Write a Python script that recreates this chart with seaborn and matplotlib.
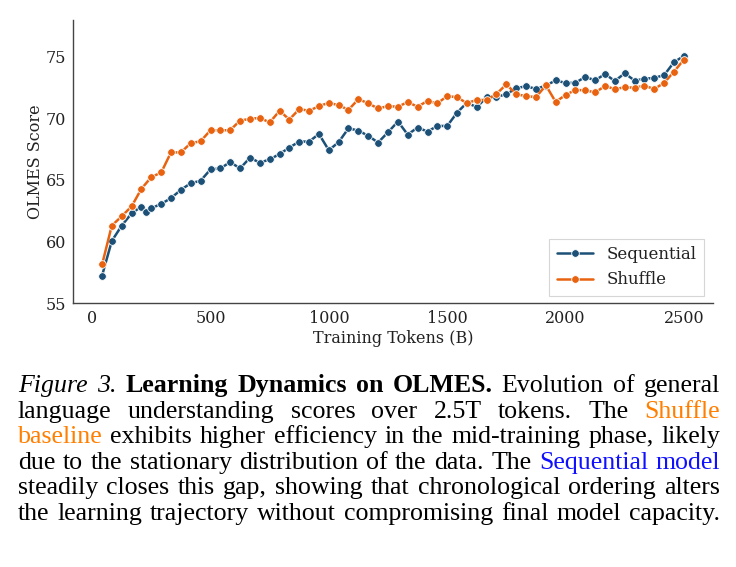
import numpy as np
import pandas as pd
import matplotlib
matplotlib.use("Agg")
import matplotlib.pyplot as plt
import seaborn as sns

# ---------------- data ----------------
tokens_shuffle = [42, 83, 125, 167, 208, 250, 292, 333, 375, 417,
                  458, 500, 542, 583, 625, 667, 708, 750, 792, 833,
                  875, 917, 958, 1000, 1042, 1083, 1125, 1167, 1208, 1250,
                  1292, 1333, 1375, 1417, 1458, 1500, 1542, 1583, 1625, 1667,
                  1708, 1750, 1792, 1833, 1875, 1917, 1958, 2000, 2042, 2083,
                  2125, 2167, 2208, 2250, 2292, 2333, 2375, 2417, 2458, 2500]
tokens_sequential = [42, 83, 125, 167, 208, 229, 250, 292, 333, 375, 417,
                     458, 500, 542, 583, 625, 667, 708, 750, 792, 833,
                     875, 917, 958, 1000, 1042, 1083, 1125, 1167, 1208, 1250,
                     1292, 1333, 1375, 1417, 1458, 1500, 1542, 1583, 1625, 1667,
                     1708, 1750, 1792, 1833, 1875, 1917, 1958, 2000, 2042, 2083,
                     2125, 2167, 2208, 2250, 2292, 2333, 2375, 2417, 2458, 2500]
score_sequential = [57.23, 60.04, 61.29, 62.29, 62.84, 62.43, 62.70, 63.06, 63.52, 64.20, 64.74,
                    64.93, 65.86, 65.94, 66.45, 65.94, 66.81, 66.40, 66.67, 67.11, 67.63,
                    68.12, 68.12, 68.74, 67.41, 68.09, 69.20, 69.01, 68.58, 68.04, 68.88,
                    69.75, 68.69, 69.26, 68.93, 69.39, 69.39, 70.48, 71.27, 70.92, 71.73,
                    71.76, 71.96, 72.47, 72.61, 72.41, 72.66, 73.10, 72.88, 72.90, 73.37,
                    73.10, 73.61, 73.04, 73.67, 73.07, 73.23, 73.29, 73.53, 74.57, 75.08]
score_shuffle = [58.13, 61.29, 62.05, 62.86, 64.28, 65.23, 65.61, 67.24, 67.24, 68.00,
                 68.14, 69.04, 69.04, 69.04, 69.83, 69.96, 70.05, 69.67, 70.62, 69.91,
                 70.76, 70.62, 71.00, 71.27, 71.07, 70.70, 71.57, 71.22, 70.81, 71.00,
                 70.95, 71.33, 70.95, 71.43, 71.22, 71.82, 71.72, 71.24, 71.51, 71.49,
                 71.99, 72.77, 71.96, 71.82, 71.73, 72.69, 71.35, 71.90, 72.32, 72.28,
                 72.12, 72.63, 72.39, 72.53, 72.50, 72.66, 72.39, 72.90, 73.80, 74.78]
series_names = ["Sequential", "Shuffle"]
x_ticks = [0, 500, 1000, 1500, 2000, 2500]
y_ticks = [55, 60, 65, 70, 75]

df = pd.concat([
    pd.DataFrame({"Training Tokens (B)": tokens_sequential, "OLMES Score": score_sequential,
                  "Model": series_names[0]}),
    pd.DataFrame({"Training Tokens (B)": tokens_shuffle, "OLMES Score": score_shuffle,
                  "Model": series_names[1]}),
], ignore_index=True)

# ---------------- style ----------------
sns.set_theme(style="white")
plt.rcParams["font.family"] = ["DejaVu Serif"]
plt.rcParams["axes.edgecolor"] = "#333333"

W, H = 736, 567
fig = plt.figure(figsize=(W / 100, H / 100), dpi=100)
ax = fig.add_axes([73 / W, 1 - 303 / H, 640 / W, 283 / H])

palette = {"Sequential": "#1c5077", "Shuffle": "#e8620f"}
sns.lineplot(data=df, x="Training Tokens (B)", y="OLMES Score", hue="Model",
             hue_order=series_names, palette=palette, style="Model",
             markers={"Sequential": "o", "Shuffle": "o"}, dashes=False,
             linewidth=1.8, markersize=5.5, markeredgecolor="white",
             markeredgewidth=0.6, ax=ax)

ax.set_ylim(55, 78)
ax.set_xticks(x_ticks)
ax.set_yticks(y_ticks)
ax.tick_params(axis="both", labelsize=11.5, length=0, pad=5, colors="#222222")
ax.set_xlabel("Training Tokens (B)", fontsize=11.5, color="#222222", labelpad=2)
ax.set_ylabel("OLMES Score", fontsize=11.5, color="#222222", labelpad=1)
for s in ["top", "right"]:
    ax.spines[s].set_visible(False)
for s in ["left", "bottom"]:
    ax.spines[s].set_linewidth(1.0)
    ax.spines[s].set_color("#444444")

leg = ax.legend(loc="lower right", fontsize=12, frameon=True, fancybox=False,
                borderpad=0.45, handlelength=2.2, borderaxespad=0,
                bbox_to_anchor=((704 - 73) / 640, (303 - 296) / 283))
leg.get_frame().set_edgecolor("#cccccc")
leg.get_frame().set_linewidth(0.8)
for t in leg.get_texts():
    t.set_color("#222222")

# ---------------- caption ----------------
ORANGE = "#ff7f00"
BLUE = "#1010ff"
caption_lines = [
    [("Figure", "i"), ("3.", "i"), ("Learning", "b"), ("Dynamics", "b"), ("on", "b"),
     ("OLMES.", "b"), ("Evolution", "r"), ("of", "r"), ("general", "r")],
    [("language", "r"), ("understanding", "r"), ("scores", "r"), ("over", "r"), ("2.5T", "r"),
     ("tokens.", "r"), ("The", "r"), ("Shuffle", "o")],
    [("baseline", "o"), ("exhibits", "r"), ("higher", "r"), ("efficiency", "r"), ("in", "r"),
     ("the", "r"), ("mid-training", "r"), ("phase,", "r"), ("likely", "r")],
    [("due", "r"), ("to", "r"), ("the", "r"), ("stationary", "r"), ("distribution", "r"),
     ("of", "r"), ("the", "r"), ("data.", "r"), ("The", "r"), ("Sequential", "u"), ("model", "u")],
    [("steadily", "r"), ("closes", "r"), ("this", "r"), ("gap,", "r"), ("showing", "r"),
     ("that", "r"), ("chronological", "r"), ("ordering", "r"), ("alters", "r")],
    [("the", "r"), ("learning", "r"), ("trajectory", "r"), ("without", "r"),
     ("compromising", "r"), ("final", "r"), ("model", "r"), ("capacity.", "r")],
]
cap_left, cap_right = 18, 720
baseline0, line_step = 392, 25.6
cap_font = "Liberation Serif"

renderer = fig.canvas.get_renderer()
probe = fig.text(0, 0, " ".join(w for w, _ in caption_lines[-1]), fontsize=10,
                 family=cap_font)
pw = probe.get_window_extent(renderer).width
probe.remove()
cap_fs = 10 * (cap_right - cap_left) / pw * 0.985

def kw(style):
    d = dict(fontsize=cap_fs, family=cap_font, color="black", va="baseline", ha="left")
    if style == "i":
        d["style"] = "italic"
    elif style == "b":
        d["weight"] = "bold"
    elif style == "o":
        d["color"] = ORANGE
    elif style == "u":
        d["color"] = BLUE
    return d

for i, line in enumerate(caption_lines):
    yb = baseline0 + i * line_step
    texts = [fig.text(0, 1 - yb / H, w, **kw(s)) for w, s in line]
    widths = [t.get_window_extent(renderer).width for t in texts]
    gap = (cap_right - cap_left - sum(widths)) / (len(texts) - 1)
    x = cap_left
    for t, w in zip(texts, widths):
        t.set_x(x / W)
        x += w + gap

fig.savefig("out.png", dpi=100)
